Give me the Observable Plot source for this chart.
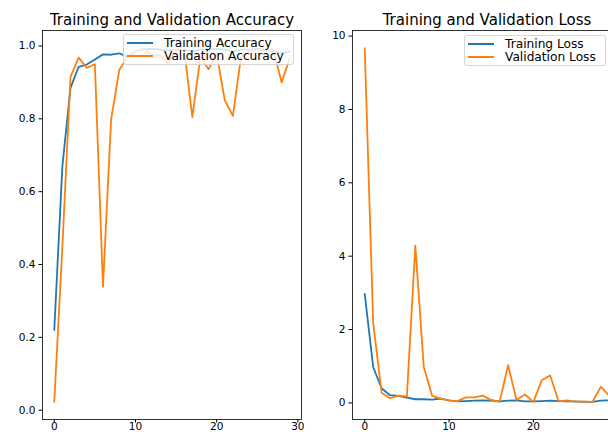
<!DOCTYPE html>
<html>
<head>
<meta charset="utf-8">
<script src="https://cdn.jsdelivr.net/npm/d3@7"></script>
<script src="https://cdn.jsdelivr.net/npm/@observablehq/plot@0.6"></script>
<style>
  html, body { margin: 0; padding: 0; background: #fff; overflow: hidden; }
  #root { position: relative; width: 608px; height: 432px; overflow: hidden; font-family: "DejaVu Sans", sans-serif; }
  .panel { position: absolute; top: 0; }
  .legend { position: absolute; box-sizing: border-box; border: 1px solid rgba(204,204,204,0.8); border-radius: 3px; background: rgba(255,255,255,0.8); font-size: 12.2px; color: #000; }
  .legend .row { position: absolute; left: 0; right: 0; height: 0; }
  .legend .sw { position: absolute; left: 3px; width: 26px; height: 2px; top: -1px; }
  .legend .lb { position: absolute; left: 40px; top: -6px; line-height: 12px; white-space: nowrap; }
</style>
</head>
<body>
<div id="root"></div>
<script>
const epochs = [0,1,2,3,4,5,6,7,8,9,10,11,12,13,14,15,16,17,18,19,20,21,22,23,24,25,26,27,28,29];
const trainAcc = [0.22, 0.67, 0.885, 0.943, 0.949, 0.963, 0.977, 0.976, 0.98, 0.97, 0.985, 0.991, 0.992, 0.99, 0.988, 0.99, 0.99, 0.985, 0.99, 0.99, 0.992, 0.99, 0.985, 0.99, 0.99, 0.992, 0.99, 0.985, 0.98, 0.985];
const valAcc = [0.023, 0.45, 0.915, 0.968, 0.94, 0.95, 0.339, 0.798, 0.934, 0.97, 0.985, 0.994, 0.975, 0.975, 0.952, 0.99, 0.99, 0.805, 0.97, 0.936, 0.98, 0.851, 0.808, 0.97, 0.985, 0.99, 0.985, 0.99, 0.9, 0.966];
const trainLoss = [2.97, 0.98, 0.4, 0.21, 0.19, 0.145, 0.1, 0.1, 0.09, 0.12, 0.07, 0.04, 0.05, 0.06, 0.07, 0.06, 0.04, 0.06, 0.07, 0.04, 0.04, 0.05, 0.06, 0.05, 0.04, 0.04, 0.03, 0.03, 0.06, 0.07];
const valLoss = [9.67, 2.19, 0.28, 0.13, 0.2, 0.18, 4.29, 0.98, 0.19, 0.12, 0.06, 0.05, 0.15, 0.15, 0.2, 0.08, 0.03, 1.03, 0.08, 0.23, 0.03, 0.62, 0.75, 0.04, 0.07, 0.03, 0.04, 0.03, 0.44, 0.2];
const xTicks = [0, 10, 20, 30];
const accTicks = [0.0, 0.2, 0.4, 0.6, 0.8, 1.0];
const lossTicks = [0, 2, 4, 6, 8, 10];
const titles = ["Training and Validation Accuracy", "Training and Validation Loss"];
const accNames = ["Training Accuracy", "Validation Accuracy"];
const lossNames = ["Training Loss", "Validation Loss"];

const BLUE = "#1f77b4", ORANGE = "#ff7f0e";

function padDomain(vals) {
  const [a, b] = d3.extent(vals);
  const m = (b - a) * 0.05;
  return [a - m, b + m];
}

function panel(left, width, marginRight, seriesA, seriesB, yTicks, fmt, title) {
  const rows = epochs.map((e, i) => ({epoch: e, a: seriesA[i], b: seriesB[i]}));
  const chart = Plot.plot({
    width, height: 432,
    marginLeft: 42, marginRight, marginTop: 30, marginBottom: 13,
    style: {fontFamily: "DejaVu Sans, sans-serif", fontSize: "10.5px", color: "#000", background: "transparent"},
    x: {domain: padDomain(epochs), ticks: xTicks, tickSize: 3.5, tickPadding: 0, label: null},
    y: {domain: padDomain(seriesA.concat(seriesB)), ticks: yTicks, tickFormat: fmt, tickSize: 3.5, tickPadding: 3.5, label: null},
    marks: [
      Plot.line(rows, {x: "epoch", y: "a", stroke: BLUE, strokeWidth: 1.8}),
      Plot.line(rows, {x: "epoch", y: "b", stroke: ORANGE, strokeWidth: 1.8}),
      Plot.frame({stroke: "#000", strokeWidth: 0.8}),
      Plot.text([title], {text: d => d, frameAnchor: "top", lineAnchor: "middle", dy: -10, fontSize: 15, fill: "#000"})
    ]
  });
  chart.classList.add("panel");
  chart.style.left = left + "px";
  return chart;
}

function legend(left, top, width, names) {
  const div = document.createElement("div");
  div.className = "legend";
  Object.assign(div.style, {left: left + "px", top: top + "px", width: width + "px", height: "31px"});
  [BLUE, ORANGE].forEach((c, i) => {
    const row = document.createElement("div");
    row.className = "row";
    row.style.top = (8 + i * 13) + "px";
    const sw = document.createElement("span");
    sw.className = "sw"; sw.style.background = c;
    const lb = document.createElement("span");
    lb.className = "lb"; lb.textContent = names[i];
    row.appendChild(sw); row.appendChild(lb);
    div.appendChild(row);
  });
  return div;
}

const root = document.getElementById("root");
root.appendChild(panel(0, 310, 9, trainAcc, valAcc, accTicks, d3.format(".1f"), titles[0]));
root.appendChild(panel(310, 320, 9, trainLoss, valLoss, lossTicks, d3.format("d"), titles[1]));
root.appendChild(legend(123, 34, 171, accNames));
root.appendChild(legend(464, 35, 142, lossNames));
</script>
</body>
</html>
